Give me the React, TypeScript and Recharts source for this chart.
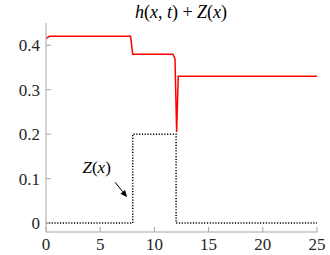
import React from 'react';
import {
  LineChart,
  Line,
  XAxis,
  YAxis,
  ReferenceLine,
  ReferenceDot,
} from 'recharts';

// h(x,t) + Z(x)
const surfaceX = [0, 0.3, 7.8, 8.0, 11.7, 11.9, 12.05, 12.2, 25];
const surfaceY = [0.415, 0.42, 0.42, 0.38, 0.38, 0.37, 0.205, 0.33, 0.33];

// bottom topography Z(x)
const bedX = [0, 8, 8, 12, 12, 25];
const bedY = [0, 0, 0.2, 0.2, 0, 0];

const xTicks = [0, 5, 10, 15, 20, 25];
const yTicks = [0, 0.1, 0.2, 0.3, 0.4];

// annotation anchor + arrow, in data units
const labelPos = { x: 4.67, y: 0.126 };
const arrowFrom = { x: 6.37, y: 0.092 };
const arrowTo = { x: 7.48, y: 0.058 };

const surface = surfaceX.map((x, i) => ({ x, v: surfaceY[i] }));
const bed = bedX.map((x, i) => ({ x, v: bedY[i] }));

const FONT = '"Liberation Serif", "DejaVu Serif", serif';
const AXIS = '#a6a6a6';
const tickStyle = { fill: '#262626', fontSize: 17, fontFamily: FONT };

const Arrow = (props: any) => {
  const { x1, y1, x2, y2 } = props;
  if (x1 == null) return null;
  const ang = Math.atan2(y2 - y1, x2 - x1);
  const len = 7;
  const w = 3;
  const bx = x2 - len * Math.cos(ang);
  const by = y2 - len * Math.sin(ang);
  const px = -Math.sin(ang) * w;
  const py = Math.cos(ang) * w;
  return (
    <g>
      <line x1={x1} y1={y1} x2={bx} y2={by} stroke="#000" strokeWidth={1} />
      <polygon points={`${x2},${y2} ${bx + px},${by + py} ${bx - px},${by - py}`} fill="#000" />
    </g>
  );
};

const ZLabel = (props: any) => {
  const { viewBox } = props;
  const cx = viewBox.x + (viewBox.width || 0) / 2;
  const cy = viewBox.y + (viewBox.height || 0) / 2;
  return (
    <text x={cx} y={cy} textAnchor="middle" dominantBaseline="central" fontFamily={FONT} fontSize={17} fill="#000">
      <tspan fontStyle="italic">Z</tspan>(<tspan fontStyle="italic">x</tspan>)
    </text>
  );
};

export default function App() {
  return (
    <div style={{ position: 'absolute', left: 0, top: 0, width: 330, height: 255, background: '#fff' }}>
      <div
        style={{
          position: 'absolute',
          top: 1,
          left: 0,
          width: 362,
          textAlign: 'center',
          fontFamily: FONT,
          fontSize: 18,
          lineHeight: '22px',
          color: '#000',
          whiteSpace: 'nowrap',
          zIndex: 1,
        }}
      >
        <i>h</i>(<i>x</i>, <i>t</i>) + <i>Z</i>(<i>x</i>)
      </div>
      <LineChart
        width={330}
        height={255}
        margin={{ top: 23, right: 13, bottom: 0, left: 0 }}
      >
        <XAxis
          xAxisId="b"
          type="number"
          dataKey="x"
          domain={[0, 25]}
          ticks={xTicks}
          height={23}
          stroke={AXIS}
          tickSize={-5}
          tickMargin={11}
          tick={tickStyle}
          allowDataOverflow
        />
        <XAxis
          xAxisId="t"
          orientation="top"
          type="number"
          dataKey="x"
          domain={[0, 25]}
          ticks={xTicks}
          height={0}
          stroke={AXIS}
          tickSize={-5}
          tickFormatter={() => ''}
        />
        <YAxis
          yAxisId="l"
          type="number"
          domain={[-0.02, 0.45]}
          ticks={yTicks}
          width={46}
          stroke={AXIS}
          tickSize={-5}
          tickMargin={11}
          tick={tickStyle}
          tickFormatter={(v: number) => (v === 0 ? '0' : String(v))}
          allowDataOverflow
        />
        <YAxis
          yAxisId="r"
          orientation="right"
          type="number"
          domain={[-0.02, 0.45]}
          ticks={yTicks}
          width={0}
          stroke={AXIS}
          tickSize={-5}
          tickFormatter={() => ''}
        />
        <Line
          xAxisId="b"
          yAxisId="l"
          data={bed}
          dataKey="v"
          type="linear"
          stroke="#000"
          strokeWidth={1.5}
          strokeDasharray="1.2 1.6"
          dot={false}
          isAnimationActive={false}
        />
        <Line
          xAxisId="b"
          yAxisId="l"
          data={surface}
          dataKey="v"
          type="linear"
          stroke="#ff0000"
          strokeWidth={1.5}
          dot={false}
          isAnimationActive={false}
        />
        <ReferenceLine
          xAxisId="b"
          yAxisId="l"
          segment={[arrowFrom, arrowTo]}
          shape={Arrow}
        />
        <ReferenceDot
          xAxisId="b"
          yAxisId="l"
          x={labelPos.x}
          y={labelPos.y}
          r={0}
          fill="none"
          stroke="none"
          label={<ZLabel />}
        />
      </LineChart>
    </div>
  );
}
